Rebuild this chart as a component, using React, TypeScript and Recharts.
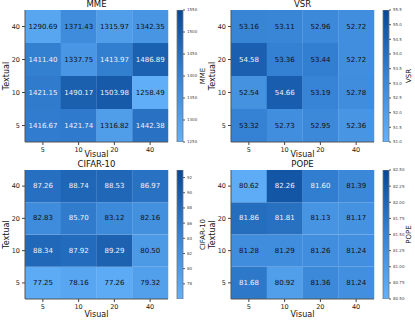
import { BarChart, Bar, XAxis, YAxis, Cell, LabelList } from "recharts"

const visualLabels = ["5", "10", "20", "40"]
const textualLabels = ["5", "10", "20", "40"]

// rows ordered by textual 5, 10, 20, 40 ; columns by visual 5, 10, 20, 40
const mmeValues = [
  [1416.67, 1421.74, 1316.82, 1442.38],
  [1421.15, 1490.17, 1503.98, 1258.49],
  [1411.4, 1337.75, 1413.97, 1486.89],
  [1290.69, 1371.43, 1315.97, 1342.35],
]
const vsrValues = [
  [53.32, 52.73, 52.95, 52.36],
  [52.54, 54.66, 53.19, 52.78],
  [54.58, 53.36, 53.44, 52.72],
  [53.16, 53.11, 52.96, 52.72],
]
const cifarValues = [
  [77.25, 78.16, 77.26, 79.32],
  [88.34, 87.92, 89.29, 80.5],
  [82.83, 85.7, 83.12, 82.16],
  [87.26, 88.74, 88.53, 86.97],
]
const popeValues = [
  [81.68, 80.92, 81.36, 81.24],
  [81.28, 81.29, 81.26, 81.24],
  [81.86, 81.81, 81.13, 81.17],
  [80.62, 82.26, 81.6, 81.39],
]

const mmeTicks = [1250, 1300, 1350, 1400, 1450, 1500, 1550]
const vsrTicks = [51.0, 51.5, 52.0, 52.5, 53.0, 53.5, 54.0, 54.5, 55.0, 55.5]
const cifarTicks = [78, 80, 82, 84, 86, 88, 90, 92]
const popeTicks = [80.5, 80.75, 81.0, 81.25, 81.5, 81.75, 82.0, 82.25, 82.5]

const STOPS = [
  [100, 177, 250],
  [54, 131, 213],
  [8, 72, 150],
]
const FONT = "'DejaVu Sans', sans-serif"

function colorAt(t: number) {
  const k = Math.max(0, Math.min(1, t))
  const seg = k < 0.5 ? 0 : 1
  const f = k < 0.5 ? k / 0.5 : (k - 0.5) / 0.5
  const a = STOPS[seg]
  const b = STOPS[seg + 1]
  const c = a.map((l, i) => Math.round(l + (b[i] - l) * f))
  return `rgb(${c[0]},${c[1]},${c[2]})`
}

type PanelProps = {
  title: string
  values: number[][]
  vmin: number
  vmax: number
  cbTicks: number[]
  cbDigits: number
  ox: number
  oy: number
  xAxisHeight: number
}

function Panel({ title, values, vmin, vmax, cbTicks, cbDigits, ox, oy, xAxisHeight }: PanelProps) {
  const rows = visualLabels.map((v, c) => {
    const o: Record<string, string | number> = { visual: v }
    textualLabels.forEach((_, r) => {
      o[`r${r}`] = 1
      o[`v${r}`] = values[r][c]
    })
    return o
  })
  const flat = values.flat()
  const dMin = Math.min(...flat)
  const dMax = Math.max(...flat)
  const gradId = `grad-${title}`

  const renderLabel = (props: any) => {
    const { x, y, width, height: h, value } = props
    const light = (value - dMin) / (dMax - dMin) > 0.5
    return (
      <text
        x={x + width / 2}
        y={y + h / 2}
        textAnchor="middle"
        dominantBaseline="central"
        fontSize={7}
        fontFamily={FONT}
        fill={light ? "#f2f2f2" : "#111"}
      >
        {Number(value).toFixed(2)}
      </text>
    )
  }

  const tickStyle = { fontSize: 6.5, fill: "#222", fontFamily: FONT }

  return (
    <>
      <div
        style={{
          position: "absolute",
          left: ox + 25,
          top: oy,
          width: 143,
          textAlign: "center",
          fontFamily: FONT,
          fontSize: 8.5,
          lineHeight: "9px",
          color: "#111",
        }}
      >
        {title}
      </div>
      <div style={{ position: "absolute", left: ox, top: oy }}>
        <BarChart
          width={175}
          height={160}
          data={rows}
          margin={{ top: 10, right: 7, bottom: 0, left: 0 }}
          barCategoryGap={0}
          barGap={0}
        >
          <XAxis
            dataKey="visual"
            height={xAxisHeight}
            tick={tickStyle}
            tickLine={{ stroke: "#444" }}
            tickSize={3}
            axisLine={{ stroke: "#555" }}
            label={{ value: "Visual", position: "insideBottom", offset: 3, style: { fontSize: 8, fill: "#111", fontFamily: FONT } }}
          />
          <XAxis xAxisId="top" orientation="top" dataKey="visual" height={0} tick={false} tickLine={false} axisLine={{ stroke: "#555" }} />
          <YAxis
            type="number"
            domain={[0, 4]}
            allowDataOverflow
            ticks={[0.5, 1.5, 2.5, 3.5]}
            tickFormatter={(v: number) => textualLabels[Math.floor(v)]}
            width={25}
            tick={tickStyle}
            tickLine={{ stroke: "#444" }}
            tickSize={3}
            axisLine={{ stroke: "#555" }}
            label={{ value: "Textual", angle: -90, position: "insideLeft", offset: 6, style: { textAnchor: "middle", fontSize: 8, fill: "#111", fontFamily: FONT } }}
          />
          <YAxis yAxisId="right" orientation="right" width={0} tick={false} tickLine={false} axisLine={{ stroke: "#555" }} />
          {textualLabels.map((_, r) => (
            <Bar key={r} dataKey={`r${r}`} stackId="a" isAnimationActive={false}>
              {rows.map((row, c) => (
                <Cell key={c} fill={colorAt(((row[`v${r}`] as number) - vmin) / (vmax - vmin))} />
              ))}
              <LabelList dataKey={`v${r}`} content={renderLabel} />
            </Bar>
          ))}
        </BarChart>
      </div>
      <div style={{ position: "absolute", left: ox + 170, top: oy }}>
        <BarChart
          width={45}
          height={160}
          data={[{ k: "cb", range: [vmin, vmax] }]}
          margin={{ top: 10, right: 0, bottom: xAxisHeight, left: 7 }}
          barCategoryGap={0}
        >
          <defs>
            <linearGradient id={gradId} x1="0" y1="1" x2="0" y2="0">
              <stop offset="0%" stopColor={colorAt(0)} />
              <stop offset="50%" stopColor={colorAt(0.5)} />
              <stop offset="100%" stopColor={colorAt(1)} />
            </linearGradient>
          </defs>
          <XAxis dataKey="k" hide />
          <YAxis
            orientation="right"
            type="number"
            domain={[vmin, vmax]}
            allowDataOverflow
            ticks={cbTicks}
            tickFormatter={(v: number) => v.toFixed(cbDigits)}
            width={32}
            tick={{ fontSize: 4, fill: "#444", fontFamily: FONT }}
            tickLine={{ stroke: "#555" }}
            tickSize={2}
            axisLine={false}
            label={{ value: title, angle: -90, position: "insideRight", offset: 12, style: { textAnchor: "middle", fontSize: 7, fill: "#111", fontFamily: FONT } }}
          />
          <Bar dataKey="range" fill={`url(#${gradId})`} stroke="#777" strokeWidth={0.8} isAnimationActive={false} />
        </BarChart>
      </div>
    </>
  )
}

export default function App() {
  return (
    <div style={{ position: "absolute", left: 0, top: 0, width: 415, height: 321, background: "#fff" }}>
      <Panel title="MME" values={mmeValues} vmin={1250} vmax={1550} cbTicks={mmeTicks} cbDigits={0} ox={0} oy={0} xAxisHeight={18} />
      <Panel title="VSR" values={vsrValues} vmin={51.0} vmax={55.5} cbTicks={vsrTicks} cbDigits={1} ox={206} oy={0} xAxisHeight={18} />
      <Panel title="CIFAR-10" values={cifarValues} vmin={76} vmax={93} cbTicks={cifarTicks} cbDigits={0} ox={0} oy={160} xAxisHeight={21} />
      <Panel title="POPE" values={popeValues} vmin={80.5} vmax={82.5} cbTicks={popeTicks} cbDigits={2} ox={206} oy={160} xAxisHeight={21} />
    </div>
  )
}
